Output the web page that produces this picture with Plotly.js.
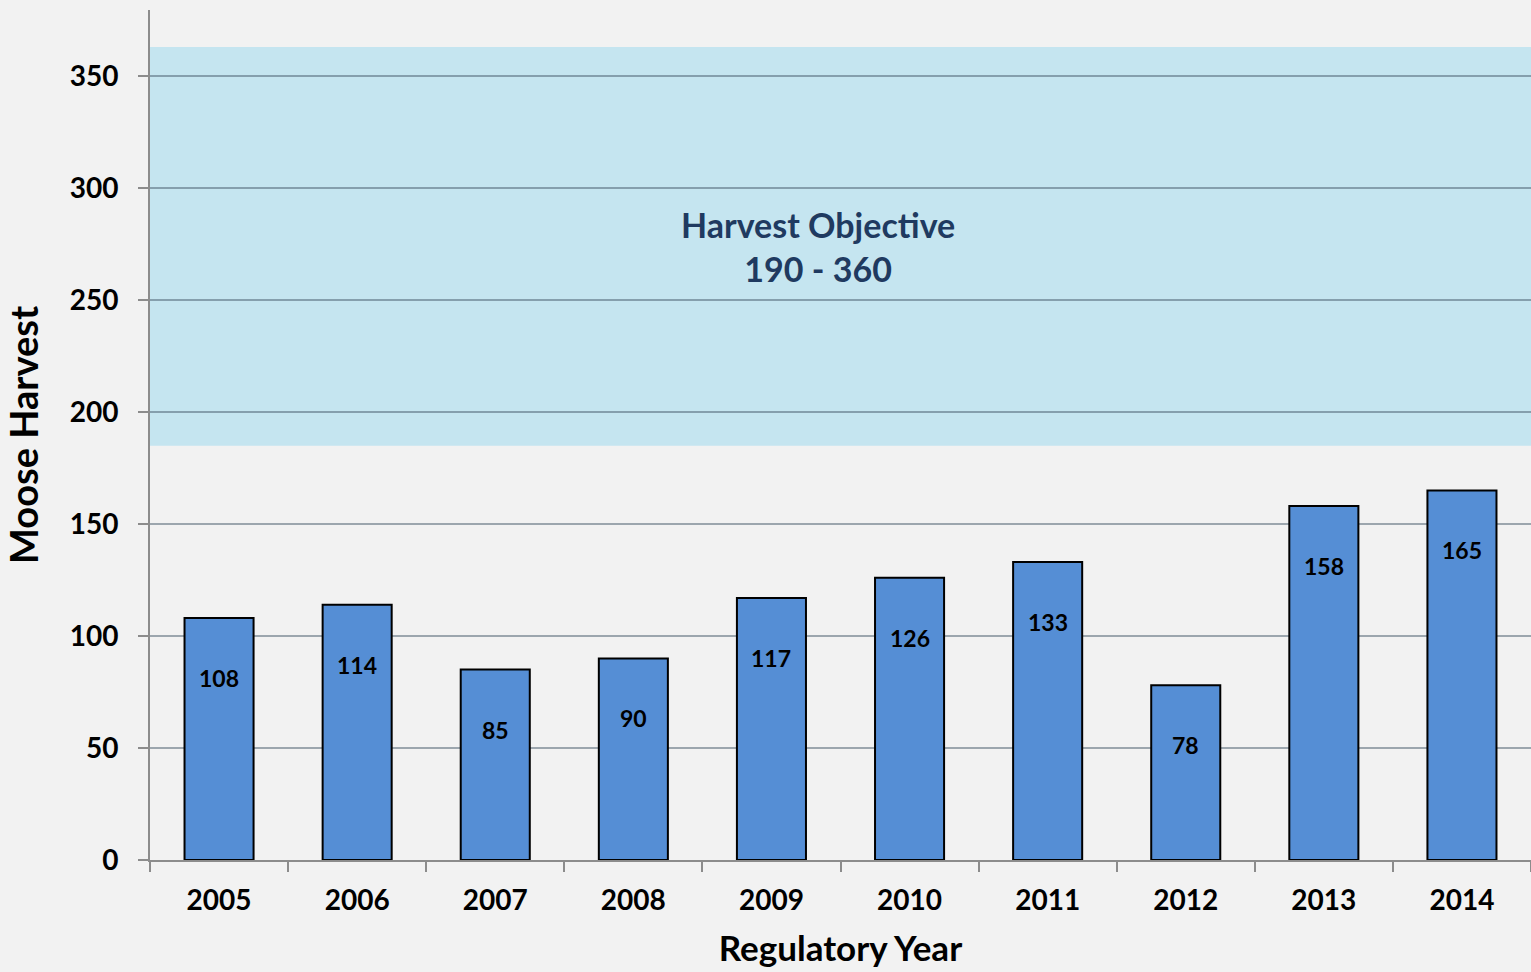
<!DOCTYPE html>
<html>
<head>
<meta charset="utf-8">
<script src="https://cdn.plot.ly/plotly-3.0.1.min.js"></script>
<style>html,body{margin:0;padding:0;background:#f2f2f2;}#chart{width:1531px;height:972px;}</style>
</head>
<body>
<div id="chart"></div>
<script>
const years = ['2005','2006','2007','2008','2009','2010','2011','2012','2013','2014'];
const harvest = [108, 114, 85, 90, 117, 126, 133, 78, 158, 165];
const objectiveLow = 185;
const objectiveHigh = 363;
const objectiveLabel = 'Harvest Objective<br>190 - 360';

const font = 'Lato, "Open Sans", sans-serif';

const trace = {
  type: 'bar',
  x: years,
  y: harvest,
  width: 0.5,
  marker: {color: '#558ed5', line: {color: '#000000', width: 2}},
  hoverinfo: 'x+y'
};

const annotations = years.map((yr, i) => ({
  x: i, y: harvest[i], xref: 'x', yref: 'y',
  text: String(harvest[i]), showarrow: false,
  yshift: -60,
  font: {family: font, size: 23, color: '#000', weight: 700}
}));
annotations.push({
  xref: 'paper', yref: 'y', x: 0.484, y: 274, text: objectiveLabel,
  showarrow: false, align: 'center',
  font: {family: font, size: 34, color: '#1f3a60', weight: 700}
});

const layout = {
  width: 1531, height: 972,
  margin: {l: 150, r: 0, t: 10, b: 112},
  paper_bgcolor: '#f2f2f2', plot_bgcolor: '#f2f2f2',
  showlegend: false,
  font: {family: font, color: '#000'},
  xaxis: {
    type: 'category',
    range: [-0.5, 9.5],
    showline: true, linecolor: '#8c8c8c', linewidth: 2,
    ticks: 'outside', tickson: 'boundaries', ticklen: 10, tickcolor: '#8c8c8c', tickwidth: 2,
    tickfont: {family: font, size: 28, color: '#000', weight: 700},
    ticklabelstandoff: 14,
    showgrid: false,
    title: {text: 'Regulatory Year', font: {family: font, size: 35, color: '#000', weight: 700}, standoff: 22}
  },
  yaxis: {
    range: [0, 379.5],
    tickvals: [0, 50, 100, 150, 200, 250, 300, 350],
    showline: true, linecolor: '#8c8c8c', linewidth: 2,
    ticks: 'outside', ticklen: 10, tickcolor: '#8c8c8c', tickwidth: 2,
    tickfont: {family: font, size: 28, color: '#000', weight: 700},
    ticklabelstandoff: 14,
    showgrid: true, gridcolor: 'rgba(70,90,105,0.5)', gridwidth: 2,
    zeroline: false,
    title: {text: 'Moose Harvest', font: {family: font, size: 38, color: '#000', weight: 700}, standoff: 21}
  },
  shapes: [{
    type: 'rect', xref: 'paper', yref: 'y', x0: 0, x1: 1, y0: objectiveLow, y1: objectiveHigh,
    fillcolor: '#c5e5f0', line: {width: 0}, layer: 'below'
  }],
  annotations: annotations
};

Plotly.newPlot('chart', [trace], layout, {displayModeBar: false, staticPlot: true});
</script>
</body>
</html>
